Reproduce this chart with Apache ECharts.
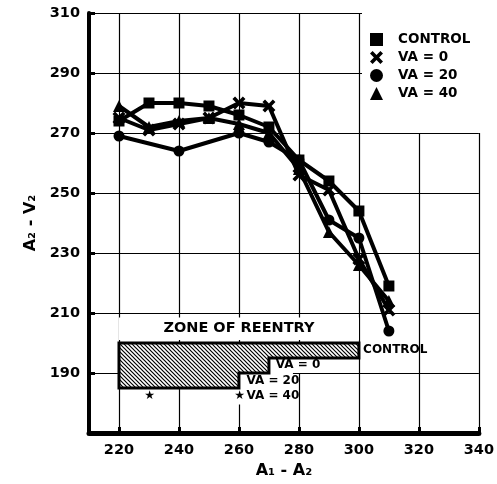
<!DOCTYPE html>
<html>
<head>
<meta charset="utf-8">
<script src="https://cdn.jsdelivr.net/npm/echarts@6/dist/echarts.min.js"></script>
<style>html,body{margin:0;padding:0;background:#fff;}#c{width:497px;height:484px;}</style>
</head>
<body>
<div id="c"></div>
<script>
// ---- data ----
const xTicks = [220, 240, 260, 280, 300, 320, 340];
const yTicks = [190, 210, 230, 250, 270, 290, 310];
const seriesNames = ['CONTROL', 'VA = 0', 'VA = 20', 'VA = 40'];
const control = [[220,274],[230,280],[240,280],[250,279],[260,276],[270,272],[280,261],[290,254],[300,244],[310,219]];
const va0     = [[220,275],[230,271],[240,273],[250,275],[260,280],[270,279],[280,256],[290,251],[300,228],[310,211]];
const va20    = [[220,269],[240,264],[260,270],[270,267],[280,261],[290,241],[300,235],[310,204]];
const va40    = [[220,279],[230,272],[240,274],[250,275],[260,273],[270,270],[280,258],[290,237],[300,226],[310,214]];
// zone of reentry: top value and steps [x start, x end, bottom value]
const zoneTop = 200;
const zoneSteps = [[220,260,185],[260,270,190],[270,300,195]];
const zoneTitle = 'ZONE OF REENTRY';
const zoneLabels = ['CONTROL', 'VA = 0', 'VA = 20', 'VA = 40'];

// ---- rendering ----
const FONT = '"DejaVu Sans", "Liberation Sans", Arial, sans-serif';
const xPath = 'path://M0,2 L2,0 L5,3 L8,0 L10,2 L7,5 L10,8 L8,10 L5,7 L2,10 L0,8 L3,5 Z';
const symbols = ['rect', xPath, 'circle', 'triangle'];
const symSizes = [11, 13, 11, 12];
const datasets = [control, va0, va20, va40];

// hatch pattern
const hc = document.createElement('canvas');
hc.width = 4; hc.height = 4;
const hx = hc.getContext('2d');
hx.fillStyle = '#fff'; hx.fillRect(0,0,4,4);
hx.strokeStyle = '#000'; hx.lineWidth = 1.2;
hx.beginPath();
hx.moveTo(-1,-1); hx.lineTo(5,5);
hx.moveTo(-1,3); hx.lineTo(1,5);
hx.moveTo(3,-1); hx.lineTo(5,1);
hx.stroke();

const chart = echarts.init(document.getElementById('c'), null, {renderer: 'canvas'});

function renderZone(params, api) {
  const c = (x, y) => api.coord([x, y]);
  const first = zoneSteps[0], last = zoneSteps[zoneSteps.length - 1];
  const pts = [c(first[0], zoneTop), c(last[1], zoneTop)];
  for (let i = zoneSteps.length - 1; i >= 0; i--) {
    const s = zoneSteps[i];
    pts.push(c(s[1], s[2]));
    pts.push(c(s[0], s[2]));
  }
  const children = [];
  // white box behind title
  const tb0 = c(first[0], zoneTop + 8.5), tb1 = c(last[1], zoneTop + 1);
  children.push({type: 'rect', shape: {x: tb0[0], y: tb0[1], width: tb1[0] - tb0[0], height: tb1[1] - tb0[1]}, style: {fill: '#fff'}});
  // white box behind VA = 0
  const b0a = c(zoneSteps[2][0], zoneSteps[2][2]), b0b = c(285.5, zoneSteps[1][2]);
  children.push({type: 'rect', shape: {x: b0a[0], y: b0a[1], width: b0b[0] - b0a[0], height: b0b[1] - b0a[1]}, style: {fill: '#fff'}});
  // white box behind VA = 20 / VA = 40
  const b1a = c(258.5, zoneSteps[1][2]), b1b = c(278, 179.5);
  children.push({type: 'rect', shape: {x: b1a[0], y: b1a[1], width: b1b[0] - b1a[0], height: b1b[1] - b1a[1]}, style: {fill: '#fff'}});
  // hatched polygon
  children.push({type: 'polygon', shape: {points: pts}, style: {fill: {image: hc, repeat: 'repeat'}, stroke: '#000', lineWidth: 3, lineJoin: 'miter'}});
  // title
  const tp = c((first[0] + last[1]) / 2, zoneTop + 4.8);
  children.push({type: 'text', style: {text: zoneTitle, x: tp[0], y: tp[1], align: 'center', verticalAlign: 'middle', fill: '#000', font: 'bold 14.5px ' + FONT}});
  const small = 'bold 12px ' + FONT;
  const lbl = (t, x, y, f) => {
    const p = c(x, y);
    children.push({type: 'text', style: {text: t, x: p[0], y: p[1], align: 'left', verticalAlign: 'middle', fill: '#000', font: f || small}});
  };
  lbl(zoneLabels[0], 301.4, 197.8);
  lbl(zoneLabels[1], 272.3, 192.6);
  lbl(zoneLabels[2], 262.5, 187.3);
  lbl(zoneLabels[3], 262.5, 182.3);
  lbl('\u2605', 258.4, 182.4, '12px ' + FONT);
  lbl('\u2605', 228.4, 182.4, '12px ' + FONT);
  return {type: 'group', children: children};
}

const lineSeries = seriesNames.map((n, i) => ({
  name: n,
  type: 'line',
  data: datasets[i],
  symbol: symbols[i],
  symbolSize: symSizes[i],
  showAllSymbol: true,
  lineStyle: {color: '#000', width: 4},
  itemStyle: {color: '#000', borderWidth: 0},
  z: 5 + i
}));

const option = {
  animation: false,
  backgroundColor: '#fff',
  grid: {left: 89, right: 16, top: 13, bottom: 51, containLabel: false},
  legend: {
    orient: 'vertical',
    left: 362, top: 0,
    padding: [32, 30, 32, 8],
    backgroundColor: '#fff',
    itemWidth: 13, itemHeight: 13, itemGap: 3,
    data: seriesNames.map((n, i) => ({name: n, icon: symbols[i], itemStyle: {color: '#000'}})),
    textStyle: {color: '#000', fontFamily: FONT, fontWeight: 'bold', fontSize: 13.5, lineHeight: 15, padding: [0, 0, 0, 10]}
  },
  xAxis: {
    type: 'value', min: 210, max: 340,
    name: 'A\u2081 - A\u2082', nameLocation: 'middle', nameGap: 28,
    nameTextStyle: {color: '#000', fontFamily: FONT, fontWeight: 'bold', fontSize: 16},
    axisLine: {show: true, onZero: false, lineStyle: {color: '#000', width: 5}},
    axisTick: {show: true, inside: true, length: 6, lineStyle: {color: '#000', width: 3}, customValues: xTicks},
    axisLabel: {color: '#000', fontFamily: FONT, fontWeight: 'bold', fontSize: 14.5, margin: 10, customValues: xTicks},
    splitLine: {show: true, lineStyle: {color: '#000', width: 1.2}}
  },
  yAxis: {
    type: 'value', min: 170, max: 310,
    name: 'A\u2082 - V\u2082', nameLocation: 'middle', nameGap: 50, nameRotate: 90,
    nameTextStyle: {color: '#000', fontFamily: FONT, fontWeight: 'bold', fontSize: 16},
    axisLine: {show: true, onZero: false, lineStyle: {color: '#000', width: 4}},
    axisTick: {show: true, inside: true, length: 6, lineStyle: {color: '#000', width: 3}, customValues: yTicks},
    axisLabel: {color: '#000', fontFamily: FONT, fontWeight: 'bold', fontSize: 14.5, margin: 9, customValues: yTicks},
    splitLine: {show: true, lineStyle: {color: '#000', width: 1.2}}
  },
  series: [{
    type: 'custom',
    name: 'zone',
    coordinateSystem: 'cartesian2d',
    renderItem: renderZone,
    data: [[260, zoneTop]],
    clip: false,
    silent: true,
    z: 3
  }].concat(lineSeries)
};
chart.setOption(option);
</script>
</body>
</html>
